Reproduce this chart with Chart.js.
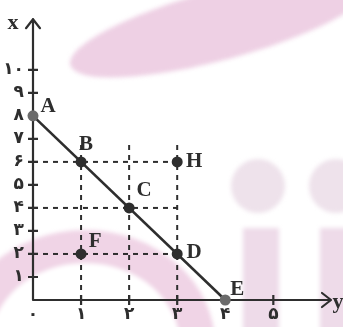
<!DOCTYPE html>
<html>
<head>
<meta charset="utf-8">
<script src="https://cdn.jsdelivr.net/npm/chart.js@4/dist/chart.umd.min.js"></script>
<style>
  html, body { margin: 0; padding: 0; background: #fff; }
  #wrap { position: relative; width: 343px; height: 327px; overflow: hidden; }
  .wm { position: absolute; filter: blur(2px); }
  #swoosh { left: 65px; top: -10px; width: 310px; height: 70px; border-radius: 50%; background: #eed0e4; transform: rotate(-15deg); }
  #ringOut { left: -45px; top: 230px; width: 260px; height: 230px; border-radius: 50%; background: #f0d4e6; }
  #ringIn { left: -10px; top: 263px; width: 190px; height: 164px; border-radius: 50%; background: #fff; }
  .dot { top: 159px; width: 54px; height: 54px; border-radius: 50%; background: #eee2eb; }
  .bar { top: 228px; width: 36px; height: 110px; background: #eedbe9; }
  canvas { position: absolute; left: 0; top: 0; }
</style>
</head>
<body>
<div id="wrap">
  <div class="wm" id="swoosh"></div>
  <div class="wm" id="ringOut"></div>
  <div class="wm" id="ringIn"></div>
  <div class="wm dot" style="left:231px"></div>
  <div class="wm dot" style="left:309px"></div>
  <div class="wm bar" style="left:243px"></div>
  <div class="wm bar" style="left:320px"></div>
  <canvas id="chart" width="343" height="327"></canvas>
</div>
<script>
// horizontal axis is "y", vertical axis is "x" in the figure
const yTicks = [0, 1, 2, 3, 4, 5];
const xTicks = [1, 2, 3, 4, 5, 6, 7, 8, 9, 10];
const yMax = 6.2;
const xMax = 12.2;

const pointNames = ["A", "B", "C", "D", "E", "F", "H"];
const pointY = [0, 1, 2, 3, 4, 1, 3];
const pointX = [8, 6, 4, 2, 0, 2, 6];

const lineY = [0, 4];
const lineX = [8, 0];

const dashVertAt = [1, 2, 3];
const dashVertTop = 6.8;
const dashHorzAt = [6, 4, 2];
const dashHorzEnd = 3;

const FA = ["۰", "۱", "۲", "۳", "۴", "۵", "۶", "۷", "۸", "۹"];
const faNum = (n) => String(n).split("").map((d) => FA[+d]).join("");

const INK = "#2e2e2e";
const GREY_PT = "#6b6b6b";

const labelOffsets = { A: [15, -9], B: [5, -17], C: [15, -17], D: [17, -1], E: [12, -10], F: [14, -12], H: [17, 0] };

const dashSets = [
  ...dashVertAt.map((v) => [{ x: v, y: 0 }, { x: v, y: dashVertTop }]),
  ...dashHorzAt.map((h) => [{ x: 0, y: h }, { x: dashHorzEnd, y: h }]),
].map((data) => ({
  data,
  showLine: true,
  borderColor: INK,
  borderWidth: 2,
  borderDash: [5, 5],
  pointRadius: 0,
  clip: false,
}));

const axesPlugin = {
  id: "axes",
  beforeDatasetsDraw(chart) {
    const { ctx, chartArea, scales } = chart;
    const x0 = scales.x.getPixelForValue(0);
    const y0 = scales.y.getPixelForValue(0);
    const top = chartArea.top;
    const right = chartArea.right;
    ctx.save();
    ctx.strokeStyle = INK;
    ctx.lineWidth = 2.2;
    ctx.lineCap = "round";
    ctx.lineJoin = "round";
    ctx.beginPath();
    ctx.moveTo(x0, y0);
    ctx.lineTo(x0, top);
    ctx.moveTo(x0 - 7, top + 9);
    ctx.lineTo(x0, top);
    ctx.lineTo(x0 + 7, top + 9);
    ctx.moveTo(x0, y0);
    ctx.lineTo(right, y0);
    ctx.moveTo(right - 9, y0 - 7);
    ctx.lineTo(right, y0);
    ctx.lineTo(right - 9, y0 + 7);
    ctx.stroke();

    ctx.lineCap = "butt";
    ctx.beginPath();
    xTicks.forEach((v) => {
      const py = scales.y.getPixelForValue(v);
      ctx.moveTo(x0 - 5, py);
      ctx.lineTo(x0 + 5, py);
    });
    yTicks.filter((v) => v > 0).forEach((v) => {
      const px = scales.x.getPixelForValue(v);
      ctx.moveTo(px, y0 - 5);
      ctx.lineTo(px, y0 + 5);
    });
    ctx.stroke();

    ctx.fillStyle = INK;
    ctx.font = "bold 22px 'Liberation Serif'";
    ctx.textBaseline = "middle";
    ctx.textAlign = "center";
    ctx.fillText("x", x0 - 20, top + 4);
    ctx.fillText("y", right + 7, y0 + 2);
    ctx.restore();
  },
  afterDatasetsDraw(chart) {
    const { ctx } = chart;
    const meta = chart.getDatasetMeta(0);
    ctx.save();
    ctx.fillStyle = INK;
    ctx.font = "bold 21px 'Liberation Serif'";
    ctx.textAlign = "center";
    ctx.textBaseline = "middle";
    meta.data.forEach((el, i) => {
      const name = pointNames[i];
      const [dx, dy] = labelOffsets[name];
      ctx.fillText(name, el.x + dx, el.y + dy);
    });
    ctx.restore();
  },
};

new Chart(document.getElementById("chart"), {
  type: "scatter",
  data: {
    datasets: [
      {
        data: pointY.map((y, i) => ({ x: y, y: pointX[i] })),
        pointRadius: 5.5,
        pointBackgroundColor: (c) => (["A", "E"].includes(pointNames[c.dataIndex]) ? GREY_PT : INK),
        pointBorderWidth: 0,
        showLine: false,
        clip: false,
      },
      {
        data: lineY.map((y, i) => ({ x: y, y: lineX[i] })),
        showLine: true,
        borderColor: INK,
        borderWidth: 2.6,
        pointRadius: 0,
        clip: false,
      },
      ...dashSets,
    ],
  },
  options: {
    responsive: false,
    animation: false,
    events: [],
    layout: { padding: { top: 12, right: 12, left: 0, bottom: 0 } },
    plugins: { legend: { display: false }, tooltip: { enabled: false } },
    scales: {
      x: {
        type: "linear",
        min: 0,
        max: yMax,
        grid: { display: false, drawTicks: false },
        border: { display: false },
        afterBuildTicks: (s) => { s.ticks = yTicks.map((v) => ({ value: v })); },
        afterFit: (s) => { s.height = 27; },
        ticks: {
          padding: 4,
          autoSkip: false,
          maxRotation: 0,
          color: INK,
          font: { family: "DejaVu Sans", weight: "bold", size: 17 },
          callback: (v) => faNum(v),
        },
      },
      y: {
        type: "linear",
        min: 0,
        max: xMax,
        grid: { display: false, drawTicks: false },
        border: { display: false },
        afterBuildTicks: (s) => { s.ticks = xTicks.map((v) => ({ value: v })); },
        afterFit: (s) => { s.width = 33; },
        ticks: {
          padding: 9,
          autoSkip: false,
          color: INK,
          font: { family: "DejaVu Sans", weight: "bold", size: 17 },
          callback: (v) => faNum(v),
        },
      },
    },
  },
  plugins: [axesPlugin],
});
</script>
</body>
</html>
